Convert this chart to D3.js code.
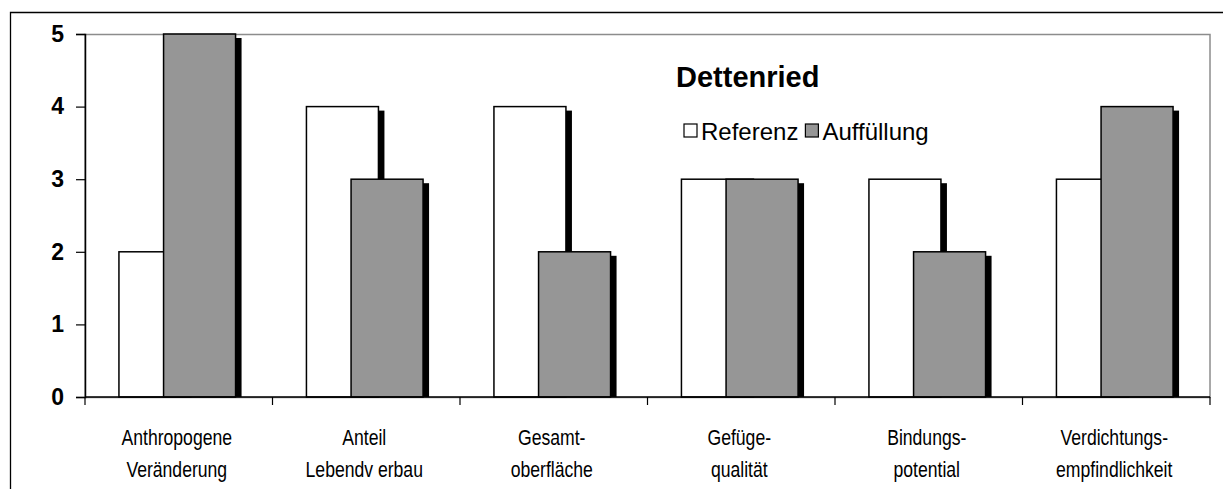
<!DOCTYPE html>
<html>
<head>
<meta charset="utf-8">
<script src="https://cdn.jsdelivr.net/npm/d3@7"></script>
<style>
  html, body { margin: 0; padding: 0; background: #fff; }
  svg { display: block; }
</style>
</head>
<body>
<svg id="chart" width="1223" height="489"></svg>
<script>
// ---- data ----
const categoriesLine1 = ["Anthropogene", "Anteil", "Gesamt-", "Gefüge-", "Bindungs-", "Verdichtungs-"];
const categoriesLine2 = ["Veränderung", "Lebendv erbau", "oberfläche", "qualität", "potential", "empfindlichkeit"];
const seriesNames = ["Referenz", "Auffüllung"];
const referenzValues = [2, 4, 4, 3, 3, 3];
const auffuellungValues = [5, 3, 2, 3, 2, 4];
const yTickValues = [0, 1, 2, 3, 4, 5];
const chartTitle = "Dettenried";

// ---- layout ----
const W = 1223, H = 489;
const plot = { left: 85, right: 1210, top: 34, bottom: 397 };
const seriesFill = ["#ffffff", "#969696"];
const baseFont = "'Liberation Sans', Arial, sans-serif";

const svg = d3.select("#chart");

// outer frame
svg.append("path")
  .attr("d", `M10.5,${H + 2} L10.5,12.5 L${W + 2},12.5`)
  .attr("fill", "none").attr("stroke", "#000").attr("stroke-width", 1.3);

const cats = categoriesLine1.map((d, i) => i);
const x = d3.scaleBand().domain(cats).range([plot.left, plot.right]).padding(0);
const y = d3.scaleLinear().domain([0, 5]).range([plot.bottom, plot.top]);
const bw = x.bandwidth();
const barW = bw * 0.384;
const sub = d3.scaleOrdinal().domain(seriesNames).range([bw * 0.181, bw * 0.419]);

// plot area border (gray)
svg.append("rect")
  .attr("x", plot.left).attr("y", plot.top + 0.5)
  .attr("width", plot.right - plot.left).attr("height", plot.bottom - plot.top)
  .attr("fill", "none").attr("stroke", "#8c8c8c").attr("stroke-width", 1.5);

const data = seriesNames.map((s, si) => ({
  name: s,
  fill: seriesFill[si],
  values: (si === 0 ? referenzValues : auffuellungValues).map((v, i) => ({ i, v }))
}));

const shadowDx = 6, shadowDy = 4;
data.forEach(s => {
  const g = svg.append("g");
  g.selectAll("rect.shadow").data(s.values).join("rect")
    .attr("class", "shadow")
    .attr("x", d => x(d.i) + sub(s.name) + shadowDx)
    .attr("y", d => y(d.v) + shadowDy)
    .attr("width", barW)
    .attr("height", d => y(0) - y(d.v) - shadowDy)
    .attr("fill", "#000");
  g.selectAll("rect.bar").data(s.values).join("rect")
    .attr("class", "bar")
    .attr("x", d => x(d.i) + sub(s.name))
    .attr("y", d => y(d.v))
    .attr("width", barW)
    .attr("height", d => y(0) - y(d.v))
    .attr("fill", s.fill)
    .attr("stroke", "#000").attr("stroke-width", 1.5);
});

// y axis
const yAxis = d3.axisLeft(y).tickValues(yTickValues).tickSize(9).tickPadding(12).tickFormat(d3.format("d"));
const yg = svg.append("g").attr("transform", `translate(${plot.left},0)`).call(yAxis);
yg.select(".domain").attr("stroke", "#000").attr("stroke-width", 1.5);
yg.selectAll(".tick line").attr("stroke", "#000").attr("stroke-width", 1.2);
yg.selectAll(".tick text")
  .attr("font-family", baseFont)
  .attr("font-weight", "bold").attr("font-size", 23).attr("fill", "#000");

// x axis (ticks at category boundaries)
const boundaries = cats.map(i => x(i)).concat([plot.right]);
const xg = svg.append("g");
xg.append("line")
  .attr("x1", plot.left).attr("x2", plot.right)
  .attr("y1", plot.bottom).attr("y2", plot.bottom)
  .attr("stroke", "#000").attr("stroke-width", 1.5);
xg.selectAll("line.tk").data(boundaries).join("line")
  .attr("class", "tk")
  .attr("x1", d => d).attr("x2", d => d)
  .attr("y1", plot.bottom).attr("y2", plot.bottom + 8)
  .attr("stroke", "#000").attr("stroke-width", 1.2);

// category labels (narrow style via horizontal scale)
const lab = svg.append("g")
  .attr("font-family", baseFont).attr("font-size", 22).attr("fill", "#000")
  .attr("text-anchor", "middle");
lab.selectAll("text.l1").data(cats).join("text")
  .attr("class", "l1")
  .attr("transform", d => `translate(${x(d) + bw / 2 - 2},445) scale(0.8,1)`)
  .text(d => categoriesLine1[d]);
lab.selectAll("text.l2").data(cats).join("text")
  .attr("class", "l2")
  .attr("transform", d => `translate(${x(d) + bw / 2 - 2},477) scale(0.8,1)`)
  .text(d => categoriesLine2[d]);

// title
svg.append("text")
  .attr("x", 676).attr("y", 87)
  .attr("font-family", baseFont)
  .attr("font-weight", "bold").attr("font-size", 29)
  .attr("fill", "#000")
  .text(chartTitle);

// legend
const legend = svg.append("g").attr("transform", "translate(684,140)");
let lx = 0;
const legendItems = legend.selectAll("g").data(data).join("g");
legendItems.each(function (d, i) {
  const g = d3.select(this);
  g.append("rect")
    .attr("x", lx).attr("y", -16).attr("width", 13).attr("height", 13)
    .attr("fill", d.fill).attr("stroke", "#000").attr("stroke-width", 1.2);
  const t = g.append("text")
    .attr("x", lx + 17).attr("y", 0)
    .attr("font-family", baseFont)
    .attr("font-size", 24).attr("fill", "#000")
    .text(d.name);
  lx += 17 + t.node().getComputedTextLength() + 7;
});
</script>
</body>
</html>
